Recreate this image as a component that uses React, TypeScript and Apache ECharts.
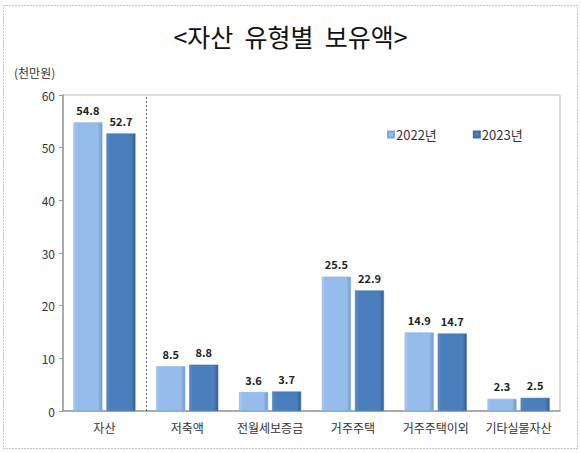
import { useEffect, useRef } from 'react';
import * as echarts from 'echarts';

const categories = ['자산', '저축액', '전월세보증금', '거주주택', '거주주택이외', '기타실물자산'];
const seriesNames = ['2022년', '2023년'];
const values2022 = [54.8, 8.5, 3.6, 25.5, 14.9, 2.3];
const values2023 = [52.7, 8.8, 3.7, 22.9, 14.7, 2.5];
const yTicks = { min: 0, max: 60, interval: 10 };
// position of the dashed divider, in category bands (after the first one)
const dividerAt = 1;

const FONT = '"Noto Sans CJK KR", "Noto Sans", sans-serif';

function barGradient(stops: string[]) {
  return new echarts.graphic.LinearGradient(0, 0, 1, 0, [
    { offset: 0, color: stops[0] },
    { offset: 0.12, color: stops[1] },
    { offset: 0.85, color: stops[1] },
    { offset: 1, color: stops[2] },
  ]);
}

export default function App() {
  const chartRef = useRef<HTMLDivElement>(null);

  useEffect(() => {
    if (!chartRef.current) return;
    const chart = echarts.init(chartRef.current, null, { renderer: 'svg' });

    const light = barGradient(['#a9cbf2', '#95bcea', '#6f9bd0']);
    const dark = barGradient(['#5b8dcb', '#4a7ebd', '#335f98']);

    const label = {
      show: true,
      position: 'top',
      distance: 7,
      fontSize: 11,
      fontWeight: 'bold',
      color: '#222',
      fontFamily: FONT,
    };

    chart.setOption({
      animation: false,
      textStyle: { fontFamily: FONT },
      title: {
        text: '<자산  유형별  보유액>',
        left: 'center',
        top: 18,
        textStyle: { fontSize: 25, fontWeight: 'normal', color: '#111', fontFamily: FONT },
      },
      graphic: [
        {
          type: 'rect',
          shape: { x: 3.5, y: 5.5, width: 574, height: 443 },
          style: { fill: 'none', stroke: '#8a8a8a', lineWidth: 1, lineDash: [1, 2] },
          silent: true,
        },
        {
          type: 'text',
          left: 14,
          top: 66,
          style: { text: '(천만원)', fontSize: 12, fill: '#333', fontFamily: FONT },
        },
      ],
      legend: {
        data: seriesNames,
        left: 382,
        top: 123,
        itemWidth: 6,
        itemHeight: 6,
        itemGap: 36,
        icon: 'rect',
        textStyle: { fontSize: 13, color: '#333', fontFamily: FONT, padding: [0, 0, 0, -3] },
      },
      grid: {
        left: 63,
        right: 21,
        top: 95,
        bottom: 42,
        show: true,
        borderColor: '#bdbdbd',
        borderWidth: 1,
      },
      xAxis: [
        {
          type: 'category',
          data: categories,
          axisLine: { lineStyle: { color: '#9a9a9a', width: 1.5 } },
          axisTick: { show: false },
          axisLabel: { fontSize: 12, color: '#333', margin: 10, interval: 0, fontFamily: FONT },
        },
        {
          type: 'value',
          min: 0,
          max: categories.length,
          show: false,
          position: 'bottom',
        },
      ],
      yAxis: {
        type: 'value',
        min: yTicks.min,
        max: yTicks.max,
        interval: yTicks.interval,
        axisLine: { show: true, lineStyle: { color: '#9a9a9a', width: 1.5 } },
        axisTick: { show: true, length: 4, lineStyle: { color: '#9a9a9a' } },
        axisLabel: { fontSize: 12, color: '#333', margin: 8, fontFamily: FONT },
        splitLine: { show: false },
      },
      series: [
        {
          name: seriesNames[0],
          type: 'bar',
          data: values2022,
          barWidth: 29,
          barGap: '14%',
          itemStyle: { color: light, borderColor: '#7fa8dc', borderWidth: 0.5 },
          label,
        },
        {
          name: seriesNames[1],
          type: 'bar',
          data: values2023,
          barWidth: 29,
          barGap: '14%',
          itemStyle: { color: dark, borderColor: '#3f6fa8', borderWidth: 0.5 },
          label,
        },
        {
          name: 'divider',
          type: 'line',
          xAxisIndex: 1,
          data: [],
          silent: true,
          markLine: {
            silent: true,
            symbol: 'none',
            label: { show: false },
            lineStyle: { color: '#666', type: [2, 2], width: 1 },
            data: [{ xAxis: dividerAt }],
          },
        },
      ],
    });

    return () => chart.dispose();
  }, []);

  return (
    <div
      ref={chartRef}
      style={{ position: 'absolute', left: 0, top: 0, width: 581, height: 453, background: '#fff' }}
    />
  );
}
